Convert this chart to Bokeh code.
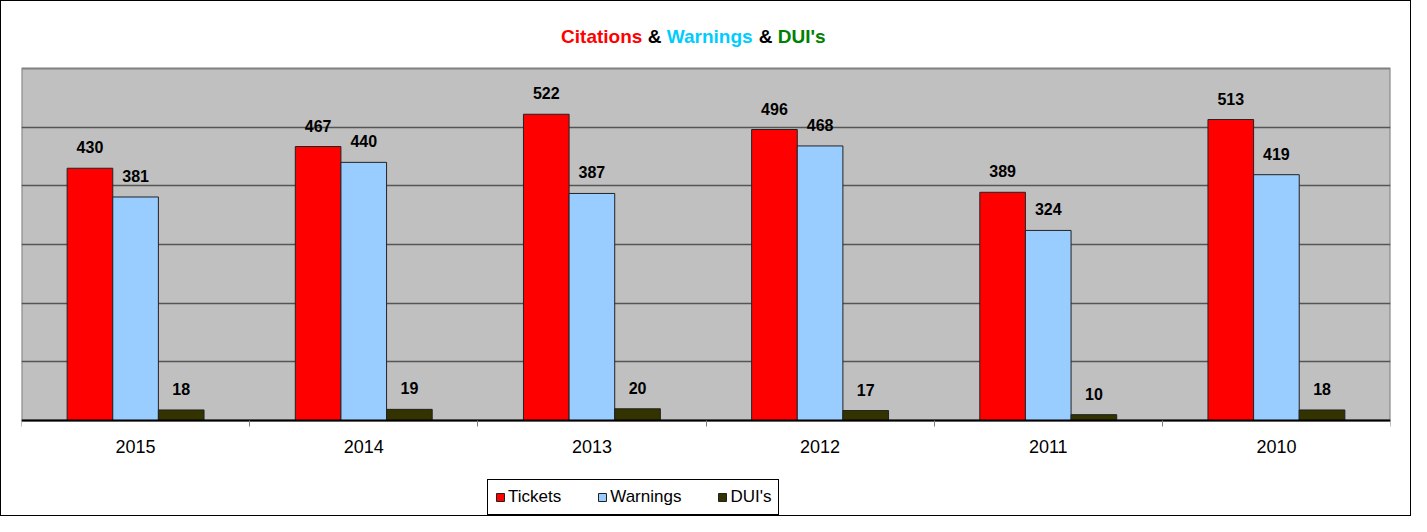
from bokeh.plotting import figure
from bokeh.models import (ColumnDataSource, Range1d, FixedTicker, LabelSet, Label,
                          Legend, LegendItem)
from bokeh.core.properties import value
from bokeh.embed import file_html
from bokeh.resources import INLINE

years = ["2015", "2014", "2013", "2012", "2011", "2010"]
tickets = [430, 467, 522, 496, 389, 513]
warnings = [381, 440, 387, 468, 324, 419]
duis = [18, 19, 20, 17, 10, 18]

series_names = ["Tickets", "Warnings", "DUI's"]
series_colors = ["#FF0000", "#99CCFF", "#333300"]

title_parts = ["Citations", "&", "Warnings", "&", "DUI's"]
title_colors = ["#FF0000", "#000000", "#00CCFF", "#000000", "#008000"]
title_x = [2.365, 2.745, 2.828, 3.231, 3.315]

FONT = "Liberation Sans"

n = len(years)
centers = [i + 0.5 for i in range(n)]
bar_w = 0.2
y_axis_max = 600

p = figure(width=1411, height=516, output_backend="svg", toolbar_location=None,
           x_range=Range1d(0, n), y_range=Range1d(-165.3, 714.2),
           min_border_left=20, min_border_right=22, min_border_top=0,
           min_border_bottom=0)
p.styles = {"border": "1px solid black", "box-sizing": "border-box"}
p.background_fill_color = "white"
p.border_fill_color = "white"
p.outline_line_color = None

# plot area (gray wall)
wall = p.quad(left=[0], right=[n], bottom=[0], top=[y_axis_max], fill_color="#C0C0C0",
              line_color="#808080", line_width=2)
wall.level = "image"

p.yaxis.visible = False
p.xgrid.visible = False
p.ygrid.ticker = FixedTicker(ticks=[100, 200, 300, 400, 500])
p.ygrid.grid_line_color = "#555555"
p.ygrid.grid_line_width = 1.5

ax = p.xaxis[0]
ax.fixed_location = 0
ax.ticker = FixedTicker(ticks=centers, minor_ticks=list(range(n + 1)))
ax.major_label_overrides = {c: y for c, y in zip(centers, years)}
ax.major_tick_line_color = None
ax.major_tick_out = 0
ax.major_tick_in = 0
ax.minor_tick_line_color = "#808080"
ax.minor_tick_out = 6
ax.minor_tick_in = 0
ax.axis_line_color = "black"
ax.axis_line_width = 2
ax.major_label_text_font = FONT
ax.major_label_text_font_size = "18px"
ax.major_label_text_color = "black"
ax.major_label_standoff = 13

legend_items = []
for k, (vals, name, col) in enumerate(zip([tickets, warnings, duis], series_names, series_colors)):
    xs = [c + (k - 1) * bar_w for c in centers]
    src = ColumnDataSource(dict(x=xs, top=vals, lbl=[str(v) for v in vals]))
    r = p.vbar(x="x", top="top", width=bar_w, source=src, fill_color=col,
               line_color="#222222", line_width=1)
    legend_items.append(LegendItem(label=name, renderers=[r]))
    labels = LabelSet(x="x", y="top", text="lbl", source=src, text_align="center",
                      text_baseline="middle", y_offset=21, text_font=value(FONT),
                      text_font_size=value("16px"), text_font_style=value("bold"),
                      text_color=value("black"))
    p.add_layout(labels)

for txt, col, xx in zip(title_parts, title_colors, title_x):
    p.add_layout(Label(x=xx, y=654.5, text=txt, text_color=col, text_font=FONT,
                       text_font_size="19px", text_font_style="bold",
                       text_baseline="middle", text_align="left"))

legend = Legend(items=legend_items, orientation="horizontal", location=(466, 2),
                label_text_font=FONT, label_text_font_size="17px", label_text_color="black",
                glyph_width=10, glyph_height=10, label_standoff=3, spacing=36,
                padding=7, margin=0, border_line_color="black", border_line_width=1,
                border_line_alpha=1, background_fill_color="white", background_fill_alpha=1)
p.add_layout(legend, "center")

open("out.html", "w").write(file_html(p, INLINE))
